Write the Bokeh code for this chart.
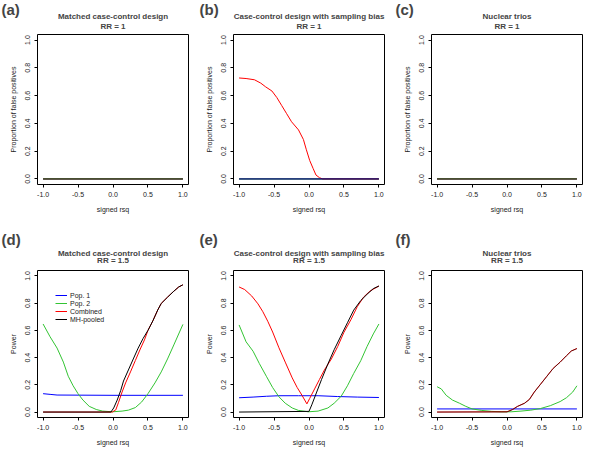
from bokeh.plotting import figure
from bokeh.layouts import gridplot
from bokeh.models import Range1d, FixedTicker, PrintfTickFormatter, Title
from bokeh.embed import file_html
from bokeh.resources import INLINE

FONT = "Liberation Sans"
X_TICKS = [-1.0, -0.5, 0.0, 0.5, 1.0]
Y_TICKS = [0.0, 0.2, 0.4, 0.6, 0.8, 1.0]
SERIES_NAMES = ["Pop. 1", "Pop. 2", "Combined", "MH-pooled"]

# ---- top row: proportion of false positives (RR = 1) ----
zero_x = [-1.0, 1.0]
zero_y = [0.0, 0.0]

b_comb_x = [-1.0, -0.9, -0.78, -0.69, -0.62, -0.53, -0.46, -0.39, -0.32, -0.25,
            -0.15, -0.08, -0.04, 0.01, 0.06, 0.10, 0.15, 0.195, 0.5, 1.0]
b_comb_y = [0.727, 0.723, 0.714, 0.69, 0.663, 0.633, 0.586, 0.528, 0.47, 0.412,
            0.353, 0.284, 0.214, 0.133, 0.074, 0.028, 0.009, 0.0, 0.0, 0.0]

# ---- (d) matched case-control, RR = 1.5 ----
d_pop1_x = [-1.0, -0.9, -0.8, 0.0, 1.0]
d_pop1_y = [0.135, 0.13, 0.125, 0.123, 0.123]
d_pop2_x = [-1.0, -0.9, -0.8, -0.71, -0.64, -0.57, -0.5, -0.43, -0.34, -0.24, -0.15,
            -0.01, 0.13, 0.22, 0.32, 0.41, 0.5, 0.6, 0.69, 0.78, 0.87, 1.0]
d_pop2_y = [0.647, 0.553, 0.47, 0.367, 0.263, 0.193, 0.135, 0.088, 0.042, 0.019, 0.007,
            0.002, 0.007, 0.014, 0.033, 0.074, 0.135, 0.214, 0.295, 0.39, 0.493, 0.644]
d_comb_x = [-1.0, -0.01, 0.04, 0.08, 0.13, 0.18, 0.25, 0.32, 0.39, 0.45, 0.5, 0.57,
            0.64, 0.69, 0.78, 0.87, 0.94, 1.0]
d_comb_y = [0.0, 0.0, 0.016, 0.072, 0.147, 0.214, 0.295, 0.379, 0.463, 0.53, 0.6, 0.67,
            0.75, 0.798, 0.844, 0.888, 0.919, 0.935]
d_mh_x = [-1.0, -0.03, 0.01, 0.06, 0.11, 0.15, 0.22, 0.29, 0.36, 0.43, 0.5, 0.57,
          0.64, 0.69, 0.78, 0.87, 0.94, 1.0]
d_mh_y = [0.0, 0.0, 0.03, 0.088, 0.158, 0.228, 0.309, 0.39, 0.47, 0.54, 0.6, 0.67,
          0.75, 0.798, 0.844, 0.888, 0.919, 0.935]

# ---- (e) case-control with sampling bias, RR = 1.5 ----
e_pop1_x = [-1.0, -0.8, -0.61, -0.43, -0.15, 0.13, 0.41, 0.69, 1.0]
e_pop1_y = [0.105, 0.11, 0.116, 0.12, 0.12, 0.12, 0.114, 0.11, 0.107]
e_pop2_x = [-1.0, -0.9, -0.8, -0.71, -0.61, -0.52, -0.43, -0.34, -0.24, -0.15, -0.01,
            0.13, 0.27, 0.36, 0.46, 0.55, 0.64, 0.74, 0.83, 0.92, 1.0]
e_pop2_y = [0.64, 0.516, 0.447, 0.356, 0.263, 0.18, 0.112, 0.065, 0.03, 0.012, 0.002,
            0.007, 0.03, 0.065, 0.116, 0.193, 0.284, 0.377, 0.481, 0.574, 0.647]
e_comb_x = [-1.0, -0.92, -0.82, -0.73, -0.66, -0.59, -0.52, -0.43, -0.34, -0.24, -0.17,
            -0.10, -0.03, 0.01, 0.08, 0.15, 0.22, 0.32, 0.41, 0.5, 0.6, 0.69, 0.78, 0.87, 1.0]
e_comb_y = [0.919, 0.9, 0.853, 0.795, 0.737, 0.667, 0.588, 0.472, 0.367, 0.251, 0.181,
            0.123, 0.06, 0.1, 0.17, 0.24, 0.309, 0.39, 0.481, 0.586, 0.679, 0.774, 0.844, 0.888, 0.926]
e_mh_x = [-1.0, 0.0, 0.04, 0.11, 0.18, 0.27, 0.36, 0.46, 0.55, 0.64, 0.74, 0.83, 0.92, 1.0]
e_mh_y = [0.0, 0.005, 0.053, 0.147, 0.24, 0.353, 0.458, 0.563, 0.656, 0.749, 0.819, 0.865, 0.907, 0.926]

# ---- (f) nuclear trios, RR = 1.5 ----
f_pop1_x = [-1.0, 1.0]
f_pop1_y = [0.023, 0.023]
f_pop2_x = [-1.0, -0.94, -0.87, -0.78, -0.68, -0.59, -0.5, -0.36, -0.22, -0.08, 0.06,
            0.2, 0.34, 0.48, 0.62, 0.76, 0.85, 0.94, 1.0]
f_pop2_y = [0.186, 0.17, 0.123, 0.088, 0.065, 0.042, 0.023, 0.012, 0.005, 0.002, 0.002,
            0.007, 0.014, 0.026, 0.047, 0.077, 0.105, 0.147, 0.193]
f_comb_x = [-1.0, 0.0, 0.08, 0.15, 0.25, 0.32, 0.39, 0.48, 0.57, 0.66, 0.76, 0.85, 0.92, 1.0]
f_comb_y = [0.0, 0.002, 0.019, 0.042, 0.065, 0.093, 0.147, 0.205, 0.263, 0.321, 0.367, 0.414, 0.449, 0.467]
f_mh_x = [-1.0, 0.0, 0.08, 0.15, 0.25, 0.32, 0.39, 0.48, 0.57, 0.66, 0.76, 0.85, 0.92, 1.0]
f_mh_y = [0.0, 0.001, 0.018, 0.041, 0.064, 0.092, 0.146, 0.204, 0.262, 0.32, 0.366, 0.413, 0.448, 0.466]

BLUE = "#0000ff"
GREEN = "#33c433"
RED = "#ff0000"
BLACK = "#000000"

FRAME_W = 151
FRAME_H = 150
HEIGHT = 225

# title standoffs per row: (line2, line1, letter)
TOP_STANDOFFS = (4.4, -3, -13.8)
BOT_STANDOFFS = (5.8, -9, 7)


def panel(letter, line1, line2, ylabel, series, width, left, letter_x, btop, bbottom,
          standoffs, legend=False):
    p = figure(width=width, height=HEIGHT,
               x_range=Range1d(-1.08, 1.08), y_range=Range1d(-0.04, 1.04),
               output_backend="svg", toolbar_location=None,
               min_border_left=left, min_border_right=width - left - FRAME_W,
               min_border_top=btop, min_border_bottom=bbottom)
    p.background_fill_color = "white"
    p.border_fill_color = "white"
    p.outline_line_color = "black"
    p.outline_line_width = 1
    p.xgrid.visible = False
    p.ygrid.visible = False

    p.xaxis.ticker = FixedTicker(ticks=X_TICKS)
    p.yaxis.ticker = FixedTicker(ticks=Y_TICKS)
    p.xaxis.formatter = PrintfTickFormatter(format="%.1f")
    p.yaxis.formatter = PrintfTickFormatter(format="%.1f")
    p.xaxis.bounds = (-1.0, 1.0)
    p.yaxis.bounds = (0.0, 1.0)
    p.xaxis.axis_label = "signed rsq"
    p.yaxis.axis_label = ylabel
    p.yaxis.major_label_orientation = "vertical"
    for ax in (p.xaxis[0], p.yaxis[0]):
        ax.major_tick_in = 0
        ax.major_tick_out = 3
        ax.minor_tick_in = 0
        ax.minor_tick_out = 0
        ax.axis_line_color = "black"
        ax.major_tick_line_color = "black"
        ax.major_label_text_font = FONT
        ax.major_label_text_font_size = "7px"
        ax.major_label_text_color = "#222222"
        ax.major_label_standoff = 4
        ax.axis_label_text_font = FONT
        ax.axis_label_text_font_size = "7px"
        ax.axis_label_text_font_style = "normal"
        ax.axis_label_text_color = "#222222"
        ax.axis_label_standoff = 6

    s2, s1, sl = standoffs
    # stacked from the frame outward: line2, line1, then the panel letter (p.title)
    t2 = Title(text=line2, align="center", vertical_align="top", text_font=FONT,
               text_font_size="8px", text_font_style="bold", standoff=s2)
    p.add_layout(t2, "above")
    t1 = Title(text=line1, align="center", text_font=FONT, text_font_size="8px",
               text_font_style="bold", standoff=s1)
    p.add_layout(t1, "above")
    p.title.text = letter
    p.title.align = "left"
    p.title.offset = letter_x - left
    p.title.text_font = FONT
    p.title.text_font_size = "15px"
    p.title.text_font_style = "bold"
    p.title.standoff = sl

    for xs, ys, color, alpha, name in series:
        if legend and name is not None:
            p.line(xs, ys, line_color=color, line_alpha=alpha, line_width=1, legend_label=name)
        else:
            p.line(xs, ys, line_color=color, line_alpha=alpha, line_width=1)

    if legend:
        lg = p.legend[0]
        lg.location = (18, 94)
        lg.border_line_color = None
        lg.background_fill_alpha = 0
        lg.padding = 0
        lg.margin = 0
        lg.spacing = 0
        lg.glyph_height = 8
        lg.glyph_width = 12
        lg.label_height = 8
        lg.label_standoff = 3
        lg.label_text_font = FONT
        lg.label_text_font_size = "7px"
        lg.label_text_color = "#222222"
    return p


YL_TOP = "Proportion of false positives"
YL_BOT = "Power"

pa = panel("(a)", "Matched case-control design", "RR = 1", YL_TOP, [
    (zero_x, zero_y, BLUE, 1.0, None),
    (zero_x, zero_y, RED, 1.0, None),
    (zero_x, zero_y, BLACK, 1.0, None),
    (zero_x, zero_y, GREEN, 0.6, None),
], 195, 37, 1, 34, 41, TOP_STANDOFFS)

pb = panel("(b)", "Case-control design with sampling bias", "RR = 1", YL_TOP, [
    (zero_x, zero_y, GREEN, 1.0, None),
    (b_comb_x, b_comb_y, RED, 1.0, None),
    (zero_x, zero_y, BLACK, 1.0, None),
    (zero_x, zero_y, BLUE, 0.6, None),
], 195, 38, 4, 34, 41, TOP_STANDOFFS)

pc = panel("(c)", "Nuclear trios", "RR = 1", YL_TOP, [
    (zero_x, zero_y, BLUE, 1.0, None),
    (zero_x, zero_y, RED, 1.0, None),
    (zero_x, zero_y, BLACK, 1.0, None),
    (zero_x, zero_y, GREEN, 0.6, None),
], 194, 41, 5, 34, 41, TOP_STANDOFFS)

pd_ = panel("(d)", "Matched case-control design", "RR = 1.5", YL_BOT, [
    (d_pop1_x, d_pop1_y, BLUE, 1.0, SERIES_NAMES[0]),
    (d_pop2_x, d_pop2_y, GREEN, 1.0, SERIES_NAMES[1]),
    (d_comb_x, d_comb_y, RED, 1.0, SERIES_NAMES[2]),
    (d_mh_x, d_mh_y, BLACK, 1.0, SERIES_NAMES[3]),
], 195, 37, 1, 42, 33, BOT_STANDOFFS, legend=True)

pe = panel("(e)", "Case-control design with sampling bias", "RR = 1.5", YL_BOT, [
    (e_pop1_x, e_pop1_y, BLUE, 1.0, None),
    (e_pop2_x, e_pop2_y, GREEN, 1.0, None),
    (e_comb_x, e_comb_y, RED, 1.0, None),
    (e_mh_x, e_mh_y, BLACK, 1.0, None),
], 195, 38, 4, 42, 33, BOT_STANDOFFS)

pf = panel("(f)", "Nuclear trios", "RR = 1.5", YL_BOT, [
    (f_pop1_x, f_pop1_y, BLUE, 1.0, None),
    (f_pop2_x, f_pop2_y, GREEN, 1.0, None),
    (f_comb_x, f_comb_y, RED, 1.0, None),
    (f_mh_x, f_mh_y, BLACK, 0.6, None),
], 194, 41, 5, 42, 33, BOT_STANDOFFS)

grid = gridplot([[pa, pb, pc], [pd_, pe, pf]], toolbar_location=None)

open("out.html", "w").write(file_html(grid, INLINE))
